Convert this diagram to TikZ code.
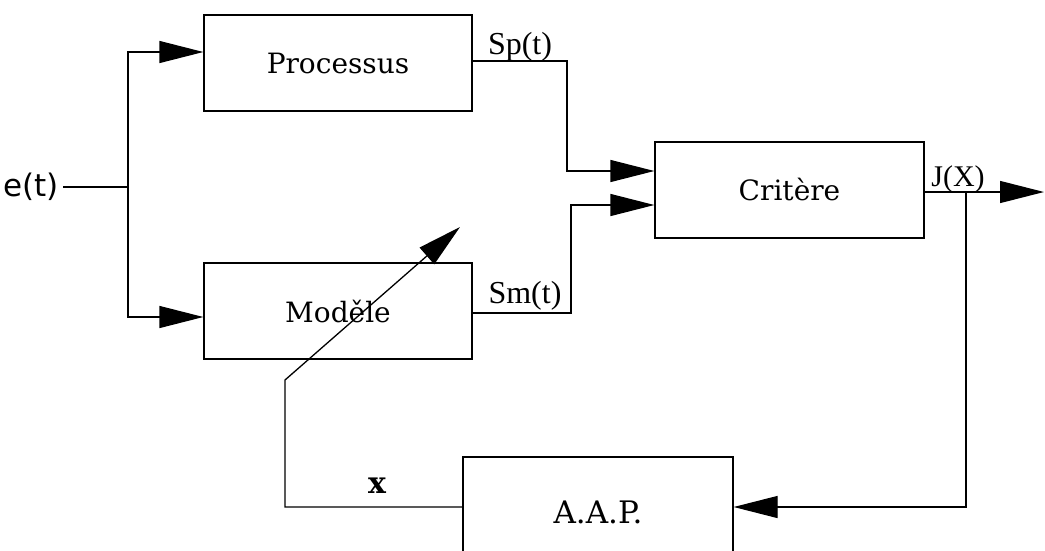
\documentclass[tikz,border=0pt]{standalone}
\usepackage{fontspec}
\setmainfont{DejaVu Serif}
\newfontfamily\labfont{Liberation Serif}
\newfontfamily\sansf{DejaVu Sans}
\usetikzlibrary{arrows.meta}
\newcommand{\boxtext}[1]{\raisebox{-6pt}{#1}}
\begin{document}
\begin{tikzpicture}[x=1pt,y=-1pt,
  line width=1.3pt,
  blk/.style={draw, minimum width=268pt, minimum height=96pt, font=\fontsize{28}{32}\selectfont, inner sep=0pt},
  lab/.style={font=\labfont\fontsize{32}{36}\selectfont, inner sep=0pt},
  arr/.style={-{Triangle[length=44pt,width=22pt]}}]
\useasboundingbox (0,0) rectangle (1045,550);
\begin{scope}
\clip (0,0) rectangle (1045,550);
\node[blk] (proc) at (338,63) {\boxtext{Processus}};
\node[blk] (mod) at (338,311) {\boxtext{Moděle}};
\node[blk, minimum width=269pt] (crit) at (789.5,190) {\boxtext{Critère}};
\node[blk, minimum width=270pt, minimum height=110pt, font=\fontsize{31}{35}\selectfont] (aap) at (598,512) {A.A.P.};
\end{scope}
\node[font=\sansf\fontsize{31}{35}\selectfont, inner sep=0pt] (e) at (31,187) {e(t)};
\coordinate (split) at (128,187);
\draw (e.east) ++(4pt,0) coordinate (estart);
\draw (estart) -- (split);
\draw[arr] (split) |- ([yshift=11pt]proc.west);
\draw[arr] (split) |- ([yshift=-6pt]mod.west);
\coordinate (spx) at (567,171);
\coordinate (smx) at (571,205);
\draw[arr] ([yshift=2pt]proc.east) -| (spx) -- ([yshift=19pt]crit.west);
\draw[arr] ([yshift=-2pt]mod.east) -| (smx) -- ([yshift=-15pt]crit.west);
\coordinate (out) at (1044,192);
\draw[arr] ([yshift=-2pt]crit.east) -- (out);
\coordinate (jd) at (966,192);
\coordinate (jb) at (966,507);
\draw[arr] (jd) -- (jb) -- ([yshift=5pt]aap.east);
\coordinate (xb) at (285,380);
\coordinate (tip) at (460,227);
\draw[arr] ([yshift=5pt]aap.west) -| (xb) -- (tip);
\node[lab] (sp) at (520,47) {Sp(t)};
\node[lab] (sm) at (525,296) {Sm(t)};
\node[lab, font=\labfont\fontsize{30}{34}\selectfont] (jx) at (958,179) {J(X)};
\node[font=\bfseries\fontsize{30}{34}\selectfont, inner sep=0pt] (xl) at (377,486) {x};
\end{tikzpicture}
\end{document}
